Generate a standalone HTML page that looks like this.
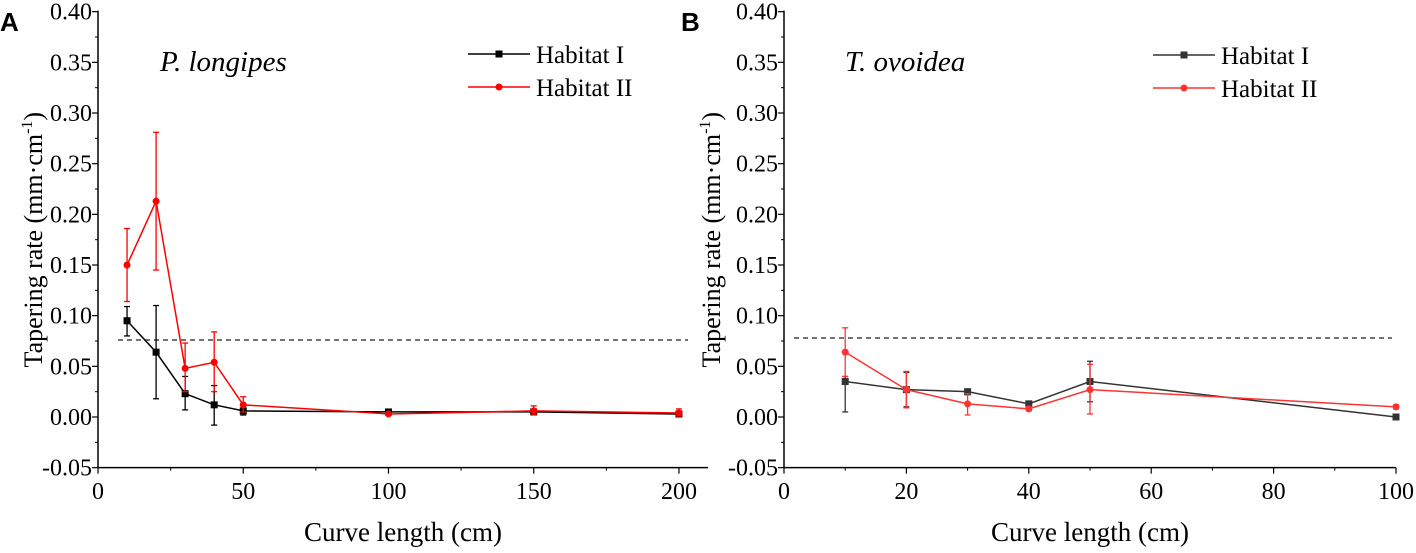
<!DOCTYPE html>
<html><head><meta charset="utf-8"><style>
body{margin:0;background:#fff;}
svg{display:block;font-family:"Liberation Serif",serif;}
</style></head><body>
<svg id="chart" width="1416" height="553"></svg>
<script>
const yTicks=[-0.05,0,0.05,0.10,0.15,0.20,0.25,0.30,0.35,0.40];
const yTickLabels=["-0.05","0.00","0.05","0.10","0.15","0.20","0.25","0.30","0.35","0.40"];
const xA=[10,20,30,40,50,100,150,200];
const aH1=[0.095,0.064,0.023,0.012,0.006,0.005,0.005,0.003];
const aH1Lo=[0.080,0.018,0.007,-0.008,0.002,0.003,0.003,0.002];
const aH1Hi=[0.109,0.110,0.040,0.031,0.011,0.006,0.007,0.005];
const aH2=[0.150,0.213,0.048,0.054,0.012,0.003,0.006,0.004];
const aH2Lo=[0.114,0.145,0.025,0.025,0.005,0.002,0.002,0.001];
const aH2Hi=[0.186,0.281,0.073,0.084,0.020,0.005,0.011,0.008];
const xATicks=[0,50,100,150,200];
const xB=[10,20,30,40,50,100];
const bH1=[0.035,0.027,0.025,0.013,0.035,0.000];
const bH1Lo=[0.005,0.010,0.022,0.011,0.015,-0.002];
const bH1Hi=[0.040,0.044,0.027,0.015,0.055,0.002];
const bH2=[0.064,0.027,0.013,0.008,0.027,0.010];
const bH2Lo=[0.040,0.009,0.002,0.006,0.003,0.008];
const bH2Hi=[0.088,0.045,0.023,0.010,0.052,0.012];
const xBTicks=[0,20,40,60,80,100];
const thresholdA=0.076, thresholdB=0.078;

const NS="http://www.w3.org/2000/svg";
const svg=document.getElementById('chart');
function mk(tag,attrs,parent,name){const e=document.createElementNS(NS,tag);for(const k in attrs)e.setAttribute(k,attrs[k]);


(parent||svg).appendChild(e);return e;}
function yS(v){return 417-v*1013.3;}

function panel(p){
  const g=mk('g',{},svg,p.id);
  const xS=v=>p.x0+(v-p.xmin)/(p.xmax-p.xmin)*(p.x1-p.x0);
  mk('line',{x1:p.x0,y1:yS(0.40)-1,x2:p.x0,y2:yS(-0.05),stroke:'#000','stroke-width':1.5},g,'y-axis-line');
  mk('line',{x1:p.x0,y1:yS(-0.05),x2:p.x1,y2:yS(-0.05),stroke:'#000','stroke-width':1.5},g,'x-axis-line');
  yTicks.forEach((t,i)=>{
    mk('line',{x1:p.x0-6,y1:yS(t),x2:p.x0,y2:yS(t),stroke:'#000','stroke-width':1.2},g,'y-tick');
    if(i<yTicks.length-1)mk('line',{x1:p.x0-3,y1:yS(t+0.025),x2:p.x0,y2:yS(t+0.025),stroke:'#000','stroke-width':1},g,'y-minor-tick');
    const tx=mk('text',{x:p.x0-6,y:yS(t)+8,'text-anchor':'end','font-size':24},g,'y-tick-label');tx.textContent=yTickLabels[i];
  });
  p.xTicks.forEach((t,i)=>{
    mk('line',{x1:xS(t),y1:yS(-0.05),x2:xS(t),y2:yS(-0.05)+6,stroke:'#000','stroke-width':1.2},g,'x-tick');
    const mid=t+p.minor; if(mid<p.xmax) mk('line',{x1:xS(mid),y1:yS(-0.05),x2:xS(mid),y2:yS(-0.05)+3,stroke:'#000','stroke-width':1},g,'x-minor-tick');
    const tx=mk('text',{x:xS(t),y:499,'text-anchor':'middle','font-size':24},g,'x-tick-label');tx.textContent=String(t);
  });
  const xt=mk('text',{x:(p.x0+p.x1)/2,y:541,'text-anchor':'middle','font-size':27},g,'x-axis-title');xt.textContent='Curve length (cm)';
  const yt=mk('text',{x:0,y:0,'text-anchor':'middle','font-size':26,transform:`translate(${p.ytX},${yS(0.175)}) rotate(-90)`},g,'y-axis-title');
  yt.innerHTML='Tapering rate (mm·cm<tspan dy="-10" font-size="16">-1</tspan><tspan dy="10">)</tspan>';
  mk('line',{x1:p.dash0,y1:yS(p.thr),x2:p.dash1,y2:yS(p.thr),stroke:'#222','stroke-width':1.3,'stroke-dasharray':'5,4'},g,'threshold-line');
  const lbl=mk('text',{x:p.lblX,y:31,'font-size':26,'font-weight':'bold','font-family':'Liberation Sans, sans-serif'},g,'panel-label');lbl.textContent=p.label;
  const sp=mk('text',{x:p.spX,y:71,'font-size':29,'font-style':'italic'},g,'species-title');sp.textContent=p.species;
  p.series.forEach((s,si)=>{
    const pts=p.xs.map((x,i)=>xS(x)+','+yS(s.v[i])).join(' ');
    mk('polyline',{points:pts,fill:'none',stroke:s.c,'stroke-width':1.5},g,'line-'+s.n);
    p.xs.forEach((x,i)=>{
      const cx=xS(x);
      mk('line',{x1:cx,y1:yS(s.lo[i]),x2:cx,y2:yS(s.hi[i]),stroke:s.c,'stroke-width':1.3},g,'error-bar');
      mk('line',{x1:cx-3,y1:yS(s.lo[i]),x2:cx+3,y2:yS(s.lo[i]),stroke:s.c,'stroke-width':1.3},g,'error-cap');
      mk('line',{x1:cx-3,y1:yS(s.hi[i]),x2:cx+3,y2:yS(s.hi[i]),stroke:s.c,'stroke-width':1.3},g,'error-cap');
      if(si===0) mk('rect',{x:cx-3.5,y:yS(s.v[i])-3.5,width:7,height:7,fill:s.c},g,'point-'+s.n);
      else mk('circle',{cx:cx,cy:yS(s.v[i]),r:3.5,fill:s.c},g,'point-'+s.n);
    });
    const ly=p.legY+si*33;
    const leg=mk('g',{},g,'legend-entry');
    mk('line',{x1:p.legX,y1:ly,x2:p.legX+62,y2:ly,stroke:s.c,'stroke-width':1.5},leg,'legend-line');
    if(si===0) mk('rect',{x:p.legX+27.5,y:ly-3.5,width:7,height:7,fill:s.c},leg,'legend-marker');
    else mk('circle',{cx:p.legX+31,cy:ly,r:3.5,fill:s.c},leg,'legend-marker');
    const lt=mk('text',{x:p.legX+68,y:ly+9,'font-size':25},leg,'legend-text');lt.textContent=s.label;
  });
}
panel({id:'panel-a',x0:98,x1:708,xmin:0,xmax:210,xTicks:xATicks,minor:25,xs:xA,ytX:42,dash0:118,dash1:688,thr:thresholdA,
  lblX:0,label:'A',spX:160,species:'P. longipes',legX:468,legY:54,
  series:[{n:'habitat-1',c:'#000',v:aH1,lo:aH1Lo,hi:aH1Hi,label:'Habitat I'},{n:'habitat-2',c:'#f00',v:aH2,lo:aH2Lo,hi:aH2Hi,label:'Habitat II'}]});
panel({id:'panel-b',x0:784,x1:1396,xmin:0,xmax:100,xTicks:xBTicks,minor:10,xs:xB,ytX:720,dash0:794,dash1:1392,thr:thresholdB,
  lblX:681,label:'B',spX:845,species:'T. ovoidea',legX:1153,legY:55,
  series:[{n:'habitat-1',c:'#333',v:bH1,lo:bH1Lo,hi:bH1Hi,label:'Habitat I'},{n:'habitat-2',c:'#f33',v:bH2,lo:bH2Lo,hi:bH2Hi,label:'Habitat II'}]});
</script>
</body></html>
